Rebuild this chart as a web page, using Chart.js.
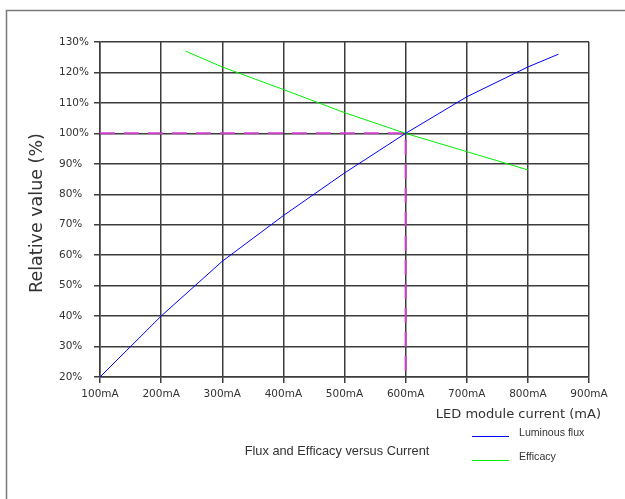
<!DOCTYPE html>
<html>
<head>
<meta charset="utf-8">
<script src="https://cdn.jsdelivr.net/npm/chart.js@4"></script>
<style>
  html, body { margin: 0; padding: 0; background: #fff; }
  #wrap { width: 625px; height: 499px; position: relative; }
</style>
</head>
<body>
<div id="wrap"><canvas id="fluxChart" width="625" height="499"></canvas></div>
<script>
// --------------------------------------------------- DATA
const currentTicks = [100, 200, 300, 400, 500, 600, 700, 800, 900]
const valueTicks = [20, 30, 40, 50, 60, 70, 80, 90, 100, 110, 120, 130]

const fluxCurrent = [100, 200, 300, 400, 500, 600, 700, 800, 850]
const fluxValues = [20, 40, 58, 73, 87, 100, 112, 121.8, 126]

const efficacyCurrent = [240, 300, 400, 500, 600, 700, 800]
const efficacyValues = [127, 121.8, 114.4, 106.8, 100, 94, 88]

const markerCurrent = [100, 600, 600]
const markerValues = [100, 100, 20]

const seriesLabels = ['Luminous flux', 'Efficacy']
const xTitle = 'LED module current (mA)'
const yTitle = 'Relative value (%)'
const caption = 'Flux and Efficacy versus Current'

// --------------------------------------------------- HELPERS
function toPoints(xs, ys) {
  return xs.map((x, i) => ({ x: x, y: ys[i] }))
}

const tickFont = { family: 'DejaVu Sans', size: 10.5 }
const gridColor = '#3c3c3c'

// draws the outer frame, axis titles, caption and the little legend
const extrasPlugin = {
  id: 'extras',
  beforeDraw(chart) {
    const ctx = chart.ctx
    ctx.save()
    ctx.strokeStyle = '#7a7a7a'
    ctx.lineWidth = 1.5
    ctx.beginPath()
    ctx.moveTo(6.5, 499)
    ctx.lineTo(6.5, 10.5)
    ctx.lineTo(625, 10.5)
    ctx.stroke()
    ctx.restore()
  },
  afterDraw(chart) {
    const ctx = chart.ctx
    ctx.save()
    ctx.fillStyle = '#333'
    ctx.textBaseline = 'middle'

    // y title, rotated
    ctx.save()
    ctx.translate(37.5, 213)
    ctx.rotate(-Math.PI / 2)
    ctx.font = '17.5px "DejaVu Sans"'
    ctx.textAlign = 'center'
    ctx.fillText(yTitle, 0, 0)
    ctx.restore()

    ctx.font = '13px "DejaVu Sans"'
    ctx.textAlign = 'right'
    ctx.fillText(xTitle, 601, 415)

    ctx.font = '12.8px "Liberation Sans"'
    ctx.textAlign = 'center'
    ctx.fillText(caption, 337, 451.5)

    const legendColors = ['#0000ff', '#00ee00']
    const legendY = [436.5, 460.5]
    ctx.font = '10.6px "Liberation Sans"'
    ctx.textAlign = 'left'
    seriesLabels.forEach((label, i) => {
      ctx.strokeStyle = legendColors[i]
      ctx.lineWidth = 1.2
      ctx.beginPath()
      ctx.moveTo(472, legendY[i])
      ctx.lineTo(509, legendY[i])
      ctx.stroke()
      ctx.fillStyle = '#333'
      ctx.fillText(label, 519, legendY[i] - 3)
    })
    ctx.restore()
  }
}

// --------------------------------------------------- CHART
const fluxChart = new Chart(document.getElementById('fluxChart'), {
  type: 'line',
  data: {
    datasets: [
      {
        label: 'marker',
        data: toPoints(markerCurrent, markerValues),
        borderColor: '#cc3fcc',
        borderWidth: 2,
        borderDash: [15, 9],
        pointRadius: 0,
        tension: 0,
        order: 3
      },
      {
        label: seriesLabels[0],
        data: toPoints(fluxCurrent, fluxValues),
        borderColor: '#0000ff',
        borderWidth: 1,
        pointRadius: 0,
        tension: 0,
        order: 1
      },
      {
        label: seriesLabels[1],
        data: toPoints(efficacyCurrent, efficacyValues),
        borderColor: '#00ee00',
        borderWidth: 1,
        pointRadius: 0,
        tension: 0,
        order: 2
      }
    ]
  },
  options: {
    responsive: false,
    animation: false,
    layout: { padding: { left: 59, right: 36, top: 42, bottom: 0 } },
    plugins: {
      legend: { display: false },
      tooltip: { enabled: false }
    },
    scales: {
      x: {
        type: 'linear',
        min: currentTicks[0],
        max: currentTicks[currentTicks.length - 1],
        afterBuildTicks: scale => { scale.ticks = currentTicks.map(v => ({ value: v })) },
        afterFit: scale => { scale.height = 122 },
        grid: { color: gridColor, lineWidth: 1.5, tickLength: 6, tickColor: gridColor },
        border: { color: gridColor, width: 1.5 },
        ticks: {
          font: tickFont,
          color: '#333',
          padding: 5,
          maxRotation: 0,
          callback: v => v + 'mA'
        }
      },
      y: {
        min: valueTicks[0],
        max: valueTicks[valueTicks.length - 1],
        afterBuildTicks: scale => { scale.ticks = valueTicks.map(v => ({ value: v })) },
        afterFit: scale => { scale.width = 41 },
        grid: { color: gridColor, lineWidth: 1.5, tickLength: 6, tickColor: gridColor },
        border: { color: gridColor, width: 1.5 },
        ticks: {
          font: tickFont,
          color: '#333',
          padding: 5,
          crossAlign: 'far',
          callback: v => v + '%'
        }
      }
    }
  },
  plugins: [extrasPlugin]
})
</script>
</body>
</html>
